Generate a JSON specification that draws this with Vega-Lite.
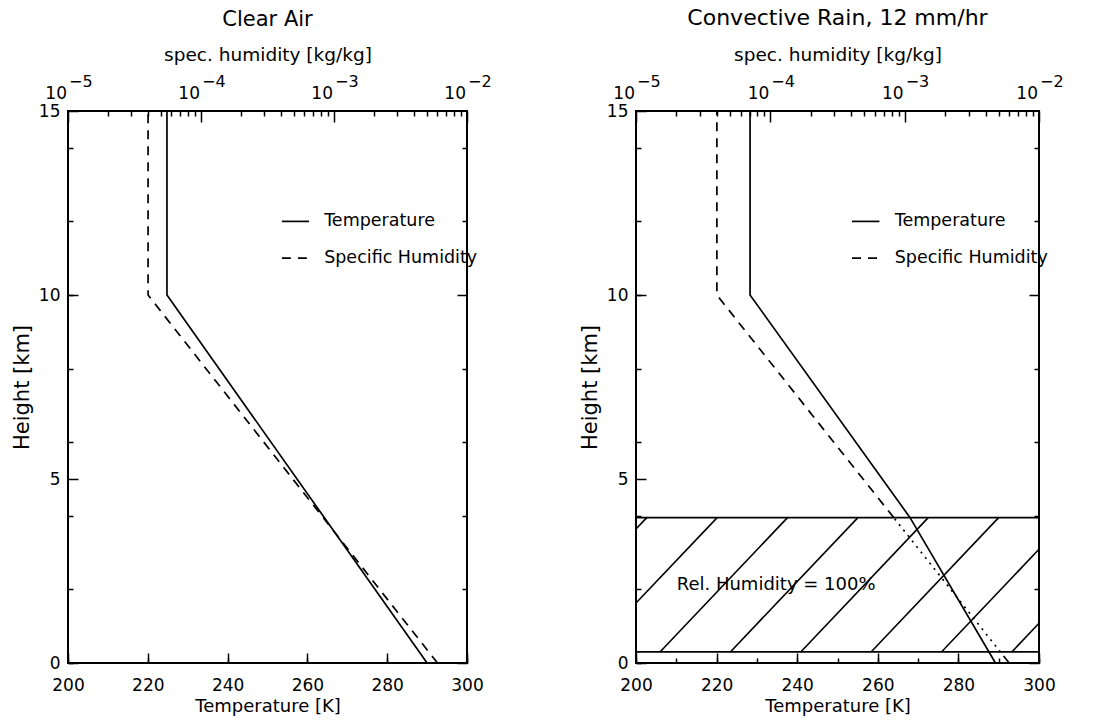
{
  "$schema": "https://vega.github.io/schema/vega-lite/v6.json",
  "background": "white",
  "padding": {"left": 10, "top": 6, "right": 10, "bottom": 5},
  "bounds": "flush",
  "spacing": 169,
  "config": {
    "font": "DejaVu Sans",
    "view": {"stroke": "black", "strokeWidth": 2},
    "axis": {"domain": false, "grid": false, "tickColor": "black", "tickWidth": 1.5, "labelColor": "black", "titleColor": "black", "labelFontSize": 17, "titleFontSize": 18, "titleFontWeight": "normal", "labelFont": "DejaVu Sans", "titleFont": "DejaVu Sans", "labelFlush": false, "labelOverlap": false, "labelBound": false},
    "title": {"fontSize": 21.5, "fontWeight": "normal", "color": "black", "font": "DejaVu Sans"}
  },
  "hconcat": [
    {
      "title": {"text": "Clear Air", "offset": 15, "fontSize": 21},
      "width": 399,
      "height": 552,
      "resolve": {"scale": {"x": "independent"}, "axis": {"x": "independent", "y": "independent"}},
      "layer": [
        {
          "layer": [
            {
              "data": {"values": [{"T": 290, "h": 0}, {"T": 224.8, "h": 10}, {"T": 224.8, "h": 15}]},
              "mark": {"type": "line", "color": "black", "strokeWidth": 1.7},
              "encoding": {
                "x": {"field": "T", "type": "quantitative", "scale": {"domain": [200, 300], "nice": false, "zero": false},
                  "axis": {"orient": "bottom", "title": "Temperature [K]", "values": [200, 220, 240, 260, 280, 300], "labelOverlap": false,
                    "tickSize": -10, "labelPadding": 24, "titlePadding": 4}},
                "y": {"field": "h", "type": "quantitative", "scale": {"domain": [0, 15], "nice": false, "zero": false},
                  "axis": {"orient": "left", "title": "Height [km]", "titleFontSize": 21, "values": [0, 5, 10, 15], "labelOverlap": false,
                    "tickSize": -10, "labelPadding": 18, "titlePadding": 6}},
                "order": {"field": "h", "type": "quantitative"}
              }
            }
          ]
        },
        {
          "layer": [
            {
              "data": {"values": [{"T": 253.6, "T2": 260.4, "h": 12}]},
              "mark": {"type": "rule", "color": "black", "strokeWidth": 1.7},
              "encoding": {
                "x": {"field": "T", "type": "quantitative", "scale": {"domain": [200, 300], "nice": false, "zero": false},
                  "axis": {"orient": "bottom", "title": null, "labels": false, "values": [200,205,210,215,220,225,230,235,240,245,250,255,260,265,270,275,280,285,290,295,300], "tickSize": -5}},
                "x2": {"field": "T2"},
                "y": {"field": "h", "type": "quantitative",
                  "axis": {"orient": "left", "title": null, "labels": false, "values": [0,1,2,3,4,5,6,7,8,9,10,11,12,13,14,15], "tickSize": -5}}
              }
            },
            {
              "data": {"values": [{"T": 253.6, "T2": 260.4, "h": 11}]},
              "mark": {"type": "rule", "color": "black", "strokeWidth": 1.7, "strokeDash": [9, 7]},
              "encoding": {"x": {"field": "T", "type": "quantitative"}, "x2": {"field": "T2"}, "y": {"field": "h", "type": "quantitative"}}
            },
            {
              "data": {"values": [{"T": 264.2, "h": 12, "txt": "Temperature"}, {"T": 264.2, "h": 11, "txt": "Specific Humidity"}]},
              "mark": {"type": "text", "align": "left", "baseline": "middle", "fontSize": 17.5, "color": "black", "font": "DejaVu Sans"},
              "encoding": {"x": {"field": "T", "type": "quantitative"}, "y": {"field": "h", "type": "quantitative"}, "text": {"field": "txt"}}
            }
          ]
        },
        {
          "layer": [
            {
              "data": {"values": [{"q": 0.006, "h": 0}, {"q": 0.00004, "h": 10}, {"q": 0.00004, "h": 15}]},
              "mark": {"type": "line", "color": "black", "strokeWidth": 1.7, "strokeDash": [9, 7]},
              "encoding": {
                "x": {"field": "q", "type": "quantitative", "scale": {"type": "log", "domain": [0.00001, 0.01], "nice": false},
                  "axis": {"orient": "top", "title": "spec. humidity [kg/kg]", "titleFontSize": 18.5, "labels": false,
                    "values": [0.00001,0.00002,0.00003,0.00004,0.00005,0.00006,0.00007,0.00008,0.00009,0.0001,0.0002,0.0003,0.0004,0.0005,0.0006,0.0007,0.0008,0.0009,0.001,0.002,0.003,0.004,0.005,0.006,0.007,0.008,0.009,0.01],
                    "tickSize": {"condition": {"test": "abs(log(datum.value)/LN10 - round(log(datum.value)/LN10)) < 0.001", "value": -11}, "value": -5},
                    "titlePadding": 46}},
                "y": {"field": "h", "type": "quantitative",
                  "axis": {"orient": "right", "title": null, "labels": false, "values": [0,1,2,3,4,5,6,7,8,9,10,11,12,13,14,15],
                    "tickSize": {"condition": {"test": "datum.value % 5 === 0", "value": -10}, "value": -5}}},
                "order": {"field": "h", "type": "quantitative"}
              }
            },
            {
              "data": {"values": [{"q": 0.00001, "b": "10", "e": "−5"}, {"q": 0.0001, "b": "10", "e": "−4"}, {"q": 0.001, "b": "10", "e": "−3"}, {"q": 0.01, "b": "10", "e": "−2"}]},
              "layer": [
                {
                  "mark": {"type": "text", "align": "right", "baseline": "alphabetic", "fontSize": 17, "dx": -1, "dy": -12, "color": "black", "font": "DejaVu Sans"},
                  "encoding": {"x": {"field": "q", "type": "quantitative"}, "y": {"datum": 15}, "text": {"field": "b"}}
                },
                {
                  "mark": {"type": "text", "align": "left", "baseline": "alphabetic", "fontSize": 16, "dx": 1, "dy": -24, "color": "black", "font": "DejaVu Sans"},
                  "encoding": {"x": {"field": "q", "type": "quantitative"}, "y": {"datum": 15}, "text": {"field": "e"}}
                }
              ]
            }
          ]
        }
      ]
    },
    {
      "title": {"text": "Convective Rain, 12 mm/hr", "offset": 15, "fontSize": 22},
      "width": 403,
      "height": 552,
      "resolve": {"scale": {"x": "independent"}, "axis": {"x": "independent", "y": "independent"}},
      "layer": [
        {
          "layer": [
            {
              "data": {"values": [{"T": 289.2, "h": 0}, {"T": 268, "h": 3.95}, {"T": 228.3, "h": 10}, {"T": 228.3, "h": 15}]},
              "mark": {"type": "line", "color": "black", "strokeWidth": 1.7},
              "encoding": {
                "x": {"field": "T", "type": "quantitative", "scale": {"domain": [200, 300], "nice": false, "zero": false},
                  "axis": {"orient": "bottom", "title": "Temperature [K]", "values": [200, 220, 240, 260, 280, 300], "labelOverlap": false,
                    "tickSize": -10, "labelPadding": 24, "titlePadding": 4}},
                "y": {"field": "h", "type": "quantitative", "scale": {"domain": [0, 15], "nice": false, "zero": false},
                  "axis": {"orient": "left", "title": "Height [km]", "titleFontSize": 21, "values": [0, 5, 10, 15], "labelOverlap": false,
                    "tickSize": -10, "labelPadding": 18, "titlePadding": 6}},
                "order": {"field": "h", "type": "quantitative"}
              }
            },
            {
              "data": {"values": [{"h": 0.3}, {"h": 3.95}]},
              "mark": {"type": "rule", "color": "black", "strokeWidth": 1.7},
              "encoding": {"y": {"field": "h", "type": "quantitative"}}
            },
            {
              "data": {"values": [
                {"T": 200, "h": 3.64, "T2": 202.68, "h2": 3.95},
                {"T": 200, "h": 1.63, "T2": 220.14, "h2": 3.95},
                {"T": 205.95, "h": 0.3, "T2": 237.6, "h2": 3.95},
                {"T": 223.41, "h": 0.3, "T2": 255.06, "h2": 3.95},
                {"T": 240.87, "h": 0.3, "T2": 272.52, "h2": 3.95},
                {"T": 258.33, "h": 0.3, "T2": 289.98, "h2": 3.95},
                {"T": 275.79, "h": 0.3, "T2": 300, "h2": 3.09},
                {"T": 293.25, "h": 0.3, "T2": 300, "h2": 1.08}
              ]},
              "mark": {"type": "rule", "color": "black", "strokeWidth": 1.6},
              "encoding": {"x": {"field": "T", "type": "quantitative"}, "x2": {"field": "T2"}, "y": {"field": "h", "type": "quantitative"}, "y2": {"field": "h2"}}
            },
            {
              "data": {"values": [{"T": 210.1, "h": 2.12, "txt": "Rel. Humidity = 100%"}]},
              "mark": {"type": "text", "align": "left", "baseline": "middle", "fontSize": 18, "color": "black", "font": "DejaVu Sans"},
              "encoding": {"x": {"field": "T", "type": "quantitative"}, "y": {"field": "h", "type": "quantitative"}, "text": {"field": "txt"}}
            }
          ]
        },
        {
          "layer": [
            {
              "data": {"values": [{"T": 253.6, "T2": 260.4, "h": 12}]},
              "mark": {"type": "rule", "color": "black", "strokeWidth": 1.7},
              "encoding": {
                "x": {"field": "T", "type": "quantitative", "scale": {"domain": [200, 300], "nice": false, "zero": false},
                  "axis": {"orient": "bottom", "title": null, "labels": false, "values": [200,205,210,215,220,225,230,235,240,245,250,255,260,265,270,275,280,285,290,295,300], "tickSize": -5}},
                "x2": {"field": "T2"},
                "y": {"field": "h", "type": "quantitative",
                  "axis": {"orient": "left", "title": null, "labels": false, "values": [0,1,2,3,4,5,6,7,8,9,10,11,12,13,14,15], "tickSize": -5}}
              }
            },
            {
              "data": {"values": [{"T": 253.6, "T2": 260.4, "h": 11}]},
              "mark": {"type": "rule", "color": "black", "strokeWidth": 1.7, "strokeDash": [9, 7]},
              "encoding": {"x": {"field": "T", "type": "quantitative"}, "x2": {"field": "T2"}, "y": {"field": "h", "type": "quantitative"}}
            },
            {
              "data": {"values": [{"T": 264.2, "h": 12, "txt": "Temperature"}, {"T": 264.2, "h": 11, "txt": "Specific Humidity"}]},
              "mark": {"type": "text", "align": "left", "baseline": "middle", "fontSize": 17.5, "color": "black", "font": "DejaVu Sans"},
              "encoding": {"x": {"field": "T", "type": "quantitative"}, "y": {"field": "h", "type": "quantitative"}, "text": {"field": "txt"}}
            }
          ]
        },
        {
          "layer": [
            {
              "data": {"values": [{"q": 0.006, "h": 0, "s": "a"}, {"q": 0.00516, "h": 0.3, "s": "a"}, {"q": 0.000829, "h": 3.95, "s": "b"}, {"q": 0.00004, "h": 10, "s": "b"}, {"q": 0.00004, "h": 15, "s": "b"}]},
              "mark": {"type": "line", "color": "black", "strokeWidth": 1.7, "strokeDash": [9, 7]},
              "encoding": {
                "x": {"field": "q", "type": "quantitative", "scale": {"type": "log", "domain": [0.00001, 0.01], "nice": false},
                  "axis": {"orient": "top", "title": "spec. humidity [kg/kg]", "titleFontSize": 18.5, "labels": false,
                    "values": [0.00001,0.00002,0.00003,0.00004,0.00005,0.00006,0.00007,0.00008,0.00009,0.0001,0.0002,0.0003,0.0004,0.0005,0.0006,0.0007,0.0008,0.0009,0.001,0.002,0.003,0.004,0.005,0.006,0.007,0.008,0.009,0.01],
                    "tickSize": {"condition": {"test": "abs(log(datum.value)/LN10 - round(log(datum.value)/LN10)) < 0.001", "value": -11}, "value": -5},
                    "titlePadding": 46}},
                "y": {"field": "h", "type": "quantitative",
                  "axis": {"orient": "right", "title": null, "labels": false, "values": [0,1,2,3,4,5,6,7,8,9,10,11,12,13,14,15],
                    "tickSize": {"condition": {"test": "datum.value % 5 === 0", "value": -10}, "value": -5}}},
                "detail": {"field": "s"},
                "order": {"field": "h", "type": "quantitative"}
              }
            },
            {
              "data": {"values": [{"q": 0.00516, "h": 0.3}, {"q": 0.000829, "h": 3.95}]},
              "mark": {"type": "line", "color": "black", "strokeWidth": 1.7, "strokeDash": [2, 5]},
              "encoding": {"x": {"field": "q", "type": "quantitative"}, "y": {"field": "h", "type": "quantitative"}, "order": {"field": "h", "type": "quantitative"}}
            },
            {
              "data": {"values": [{"q": 0.00001, "b": "10", "e": "−5"}, {"q": 0.0001, "b": "10", "e": "−4"}, {"q": 0.001, "b": "10", "e": "−3"}, {"q": 0.01, "b": "10", "e": "−2"}]},
              "layer": [
                {
                  "mark": {"type": "text", "align": "right", "baseline": "alphabetic", "fontSize": 17, "dx": -1, "dy": -12, "color": "black", "font": "DejaVu Sans"},
                  "encoding": {"x": {"field": "q", "type": "quantitative"}, "y": {"datum": 15}, "text": {"field": "b"}}
                },
                {
                  "mark": {"type": "text", "align": "left", "baseline": "alphabetic", "fontSize": 16, "dx": 1, "dy": -24, "color": "black", "font": "DejaVu Sans"},
                  "encoding": {"x": {"field": "q", "type": "quantitative"}, "y": {"datum": 15}, "text": {"field": "e"}}
                }
              ]
            }
          ]
        }
      ]
    }
  ]
}
